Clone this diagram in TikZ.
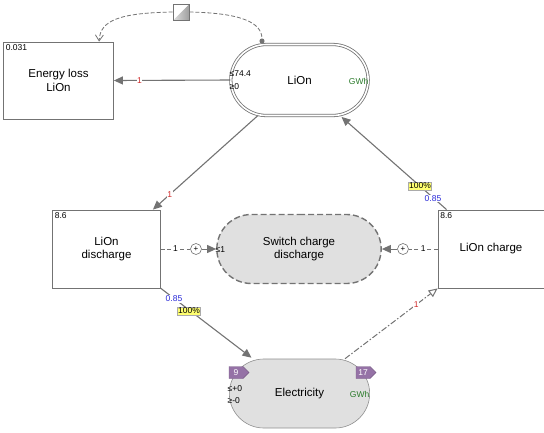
\documentclass[tikz,border=0pt]{standalone}
\usepackage{fontspec}
\setmainfont{Liberation Sans}
\usetikzlibrary{shapes.misc,shapes.symbols,arrows.meta,calc}
\definecolor{lineg}{HTML}{737373}
\definecolor{fillg}{HTML}{E0E0E0}
\definecolor{tagp}{HTML}{9572A6}
\definecolor{lblred}{HTML}{D02828}
\definecolor{lblblue}{HTML}{2828D8}
\definecolor{gwh}{HTML}{2A7A2A}
\definecolor{yel}{HTML}{FFFF70}
\begin{document}
\begin{tikzpicture}[x=1pt,y=-1pt,
  main/.style={font=\fontsize{11.5}{13.5}\selectfont, align=center},
  small/.style={font=\fontsize{8.5}{10}\selectfont, inner sep=0.5pt},
  procbox/.style={draw=lineg, line width=0.8pt, fill=white, main},
  conn/.style={draw=lineg, line width=1.1pt},
  tip/.style={-{Triangle[length=9pt,width=8pt]}},
  ctrl/.style={draw=lineg, line width=1pt, dash pattern=on 4pt off 2.5pt},
  lblr/.style={small, text=lblred, fill=white},
  lblb/.style={small, text=lblblue},
  pct/.style={small, fill=yel, draw=lineg!60, line width=0.4pt, inner sep=0.8pt},
  pluscirc/.style={circle, draw=lineg, fill=white, line width=0.6pt, minimum size=11pt, inner sep=0pt, font=\fontsize{8}{8}\selectfont},
  tag/.style={signal, signal to=east, fill=tagp, draw=tagp!80!black, line width=0.4pt, text=white, minimum width=20pt, minimum height=12pt, inner sep=1pt, font=\fontsize{8.5}{9}\selectfont}
]
\useasboundingbox (0,0) rectangle (544,432);

% boxes
\node[procbox, minimum width=110pt, minimum height=77pt] (eloss) at (58.5,80.5) {Energy loss\\LiOn};
\node[small, anchor=north west] at ($(eloss.north west)+(2,2)$) {0.031};

\node[procbox, minimum width=108pt, minimum height=78pt] (dis) at (106.5,249) {LiOn\\discharge};
\node[small, anchor=north west] at ($(dis.north west)+(2,2)$) {8.6};

\node[procbox, minimum width=106pt, minimum height=78pt] (chg) at (491,249) {LiOn charge};
\node[small, anchor=north west] at ($(chg.north west)+(2,2)$) {8.6};

% stocks
\node[rounded rectangle, draw=lineg, double=white, double distance=1.6pt, line width=0.8pt, fill=white, minimum width=144pt, minimum height=71pt, main] (lion) at (299.5,80) {LiOn};
\node[small, anchor=west] at (229,73.5) {≤74.4};
\node[small, anchor=west] at (229,87) {≥0};
\node[small, text=gwh, anchor=east] at (369,81) {GWh};

\node[rounded rectangle, draw=lineg, fill=fillg, line width=1.4pt, dash pattern=on 6pt off 3pt, minimum width=171pt, minimum height=69pt, main] (sw) at (299,249) {Switch charge\\discharge};
\node[small, anchor=west] at (215,249.5) {≤1};

\node[rounded rectangle, draw=lineg!80, fill=fillg, line width=0.6pt, minimum width=147pt, minimum height=69pt, main] (elec) at (299.5,393.5) {Electricity};
\node[tag] (t9) at (236,372.5) {9};
\node[tag] (t17) at (363,372.5) {17};
\node[small, anchor=west] at (227,388.5) {≤+0};
\node[small, anchor=west] at (227,400.5) {≥-0};
\node[small, text=gwh, anchor=east] at (370,394) {GWh};

% gate
\node[draw=lineg, line width=0.6pt, minimum size=16pt, inner sep=0pt,
  path picture={\shade[left color=gray!25, right color=gray!75]
   (path picture bounding box.south west) -- (path picture bounding box.north east) -- (path picture bounding box.south east) -- cycle;
   \fill[white] (path picture bounding box.south west) -- (path picture bounding box.north east) -- (path picture bounding box.north west) -- cycle;}] (gate) at (181,12) {};

\coordinate (eltop) at ($(eloss.north west)+(96,0)$);
\coordinate (lntop) at (262,43.5);
\draw[draw=lineg, line width=0.8pt, dash pattern=on 4pt off 2pt, -{Straight Barb[length=6pt,width=8pt]}] (gate.west) .. controls (120,13) and (100,20) .. (eltop);
\draw[draw=lineg, line width=0.8pt, dash pattern=on 4pt off 2pt, -{Circle[length=5pt]}] (gate.east) .. controls (240,13) and (262,22) .. (lntop);

% flows
\draw[conn, tip] (lion.west) -- (eloss.east) node[lblr, pos=0.78] {1};

\coordinate (lionbl) at ($(lion.south)+(-42,0)$);
\coordinate (disne) at ($(dis.north east)+(-8,0)$);
\draw[conn, tip] (lionbl) -- (disne) node[lblr, pos=0.84] {1};

\coordinate (lionbr) at ($(lion.south)+(42,1)$);
\coordinate (chgnw) at ($(chg.north west)+(9,0)$);
\draw[conn, tip] (chgnw) -- (lionbr);
\node[lblb, fill=white] at (433,198.5) {0.85};
\node[pct] at (420,186) {100\%};

\coordinate (eltl) at ($(elec.north)+(-48,-1)$);
\draw[conn, tip] (dis.south east) -- (eltl);
\node[lblb, fill=white] at (174,299) {0.85};
\node[pct] at (189,311) {100\%};

\coordinate (eltr) at ($(elec.north)+(45.5,0)$);
\draw[draw=lineg, line width=1pt, dash pattern=on 6pt off 2pt on 1.5pt off 2pt, -{Triangle[open,length=9pt,width=8pt]}] (eltr) -- (chg.south west) node[lblr, pos=0.77] {1};

% control links
\node[pluscirc] (p1) at (196,249) {+};
\draw[ctrl] (dis.east) -- (p1) node[small, fill=white, midway] {1};
\draw[ctrl, tip, solid] (p1) -- (sw.west);

\node[pluscirc] (p2) at (403,249) {+};
\draw[ctrl] (chg.west) -- (p2) node[small, fill=white, midway] {1};
\draw[ctrl, tip, solid] (p2) -- (sw.east);
\end{tikzpicture}
\end{document}
